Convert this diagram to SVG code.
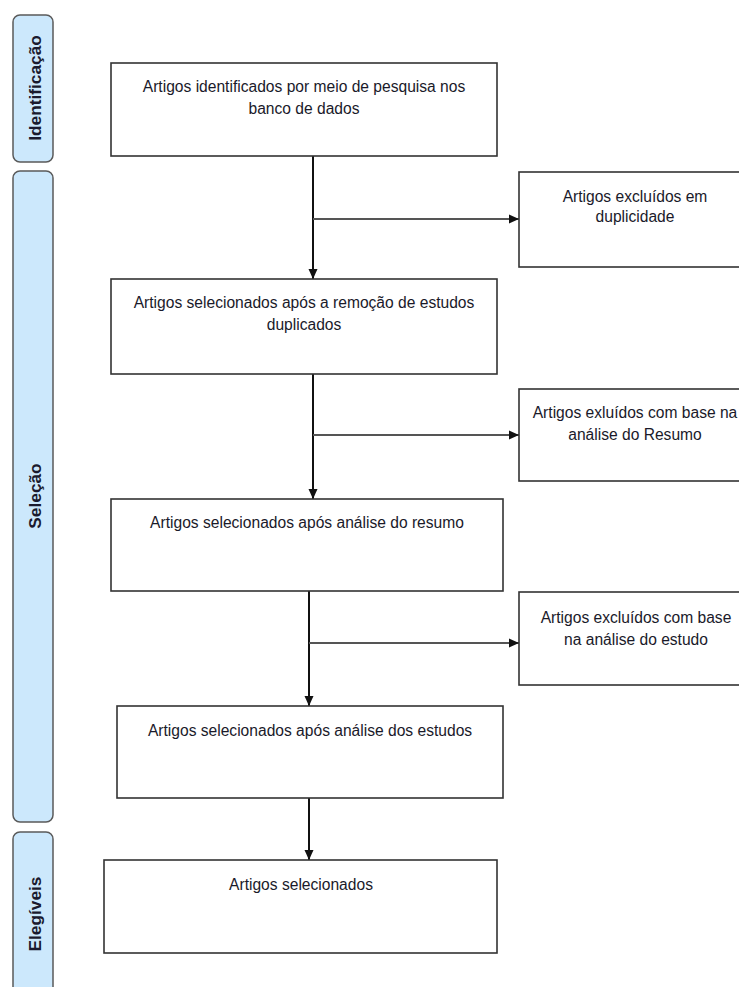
<svg xmlns="http://www.w3.org/2000/svg" width="739" height="987" viewBox="0 0 739 987">
<defs>
<style>
.band{fill:#cce8fc;stroke:#5a5a5a;stroke-width:1.5}
.lbl{font-family:"Liberation Sans",Arial,sans-serif;font-weight:bold;font-size:17.3px;fill:#1a1a2e;text-anchor:middle}
.box{fill:#ffffff;stroke:#333333;stroke-width:1.6}
.t{font-family:"Liberation Sans",Arial,sans-serif;font-size:15.6px;fill:#1a1a2a;text-anchor:middle}
.v{stroke:#111111;stroke-width:2;fill:none}
.h{stroke:#555555;stroke-width:1.8;fill:none}
</style>
<marker id="arr" markerUnits="userSpaceOnUse" markerWidth="12" markerHeight="12" refX="10" refY="6" orient="auto">
<path d="M0,1.5 L10,6 L0,10.5 Z" fill="#111111"/>
</marker>
</defs>
<rect width="739" height="987" fill="#ffffff"/>

<g id="band-identificacao">
<rect class="band" x="13" y="15" width="40" height="147" rx="7"/>
<text class="lbl" transform="translate(41,88) rotate(-90)">Identificação</text>
</g>
<g id="band-selecao">
<rect class="band" x="13" y="171" width="40" height="651" rx="7"/>
<text class="lbl" transform="translate(41,496) rotate(-90)">Seleção</text>
</g>
<g id="band-elegiveis">
<rect class="band" x="13" y="832" width="40" height="170" rx="7"/>
<text class="lbl" transform="translate(41,914) rotate(-90)">Elegíveis</text>
</g>

<g id="connectors">
<line class="v" x1="313" y1="156" x2="313" y2="279" marker-end="url(#arr)"/>
<line class="h" x1="313" y1="219" x2="519" y2="219" marker-end="url(#arr)"/>
<line class="v" x1="313" y1="374" x2="313" y2="499" marker-end="url(#arr)"/>
<line class="h" x1="313" y1="435" x2="519" y2="435" marker-end="url(#arr)"/>
<line class="v" x1="309" y1="591" x2="309" y2="706" marker-end="url(#arr)"/>
<line class="h" x1="309" y1="643" x2="519" y2="643" marker-end="url(#arr)"/>
<line class="v" x1="309" y1="798" x2="309" y2="860" marker-end="url(#arr)"/>
</g>

<g id="n1">
<rect class="box" x="111" y="63" width="386" height="93"/>
<text class="t" x="304" y="92">Artigos identificados por meio de pesquisa nos</text>
<text class="t" x="304" y="114">banco de dados</text>
</g>
<g id="n2">
<rect class="box" x="111" y="279" width="386" height="95"/>
<text class="t" x="304" y="308">Artigos selecionados após a remoção de estudos</text>
<text class="t" x="304" y="330">duplicados</text>
</g>
<g id="n3">
<rect class="box" x="111" y="499" width="392" height="92"/>
<text class="t" x="307" y="528">Artigos selecionados após análise do resumo</text>
</g>
<g id="n4">
<rect class="box" x="117" y="706" width="386" height="92"/>
<text class="t" x="310" y="736">Artigos selecionados após análise dos estudos</text>
</g>
<g id="n5">
<rect class="box" x="104" y="860" width="393" height="93"/>
<text class="t" x="301" y="890">Artigos selecionados</text>
</g>
<g id="x1">
<rect class="box" x="519" y="172" width="240" height="95"/>
<text class="t" x="635" y="201.5">Artigos excluídos em</text>
<text class="t" x="635" y="222">duplicidade</text>
</g>
<g id="x2">
<rect class="box" x="519" y="389" width="240" height="92"/>
<text class="t" x="635" y="418">Artigos exluídos com base na</text>
<text class="t" x="635" y="440">análise do Resumo</text>
</g>
<g id="x3">
<rect class="box" x="519" y="592" width="240" height="93"/>
<text class="t" x="636" y="622.5">Artigos excluídos com base</text>
<text class="t" x="636" y="644.5">na análise do estudo</text>
</g>
</svg>
